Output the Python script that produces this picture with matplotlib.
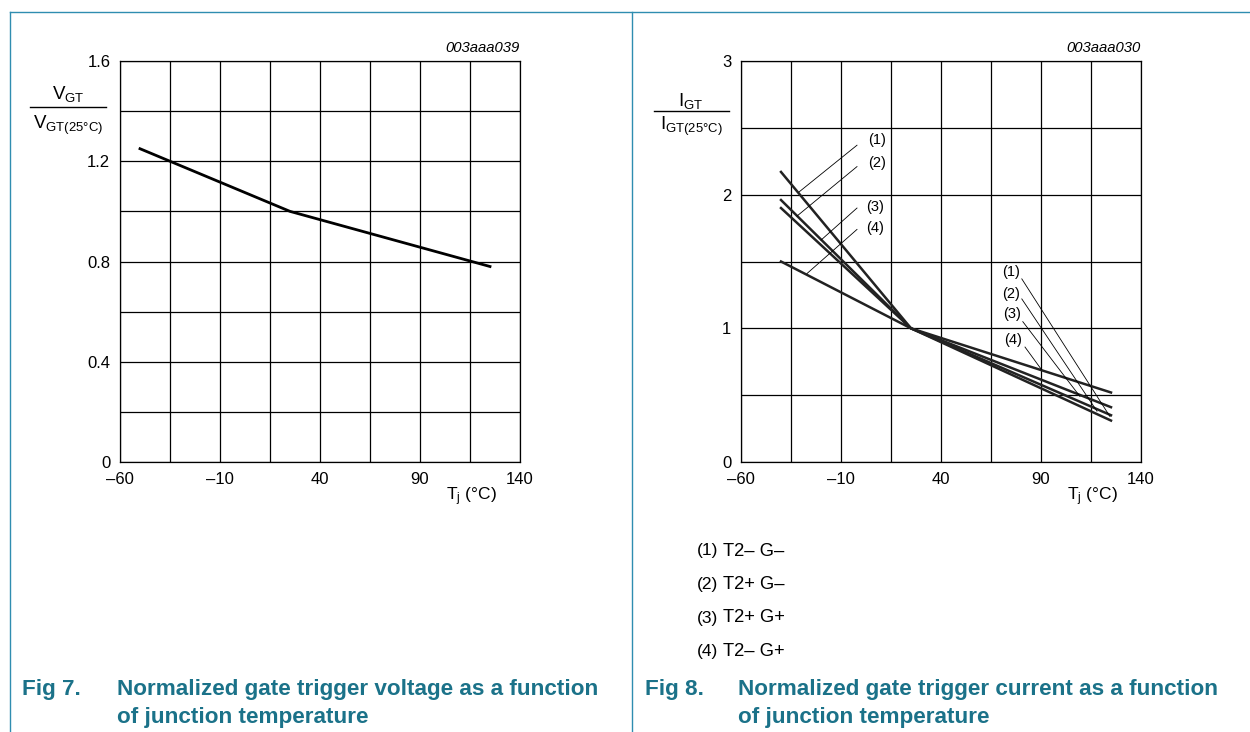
import matplotlib.pyplot as plt
from matplotlib.lines import Line2D
import numpy as np

plt.rcParams['font.family'] = ['Liberation Sans', 'DejaVu Sans']
plt.rcParams['mathtext.default'] = 'regular'

# Fig 7 data
tj_v = [-50, 25, 125]
vgt_norm = [1.25, 1.0, 0.78]

# Fig 8 data (all curves pass through 25 C -> 1)
tj_i = [-40, 25, 125]
igt_1 = [2.17, 1.0, 0.31]
igt_2 = [1.96, 1.0, 0.35]
igt_3 = [1.90, 1.0, 0.41]
igt_4 = [1.50, 1.0, 0.52]
curve_names = ['(1)', '(2)', '(3)', '(4)']
curve_desc = ['T2\u2013 G\u2013', 'T2+ G\u2013', 'T2+ G+', 'T2\u2013 G+']

x_ticks = [-60, -10, 40, 90, 140]
x_ticklabels = ['\u201360', '\u201310', '40', '90', '140']

W, H = 1250, 732
fig = plt.figure(figsize=(12.5, 7.32), dpi=100)
teal = '#1b7289'
border = '#2f8db0'


def fx(px):
    return px / W


def fy(py):
    return 1 - py / H


def frame_line(x0, y0, x1, y1, **kw):
    fig.add_artist(Line2D([fx(x0), fx(x1)], [fy(y0), fy(y1)], transform=fig.transFigure, **kw))


def setup_grid(ax, ymax, ystep, yticks, yticklabels):
    ax.set_xlim(-60, 140)
    ax.set_ylim(0, ymax)
    for xv in np.arange(-60, 141, 25):
        ax.axvline(xv, color='black', lw=0.9, zorder=1)
    for yv in np.arange(0, ymax + 1e-9, ystep):
        ax.axhline(yv, color='black', lw=0.9, zorder=1)
    ax.set_xticks(x_ticks)
    ax.set_xticklabels(x_ticklabels)
    ax.set_yticks(yticks)
    ax.set_yticklabels(yticklabels)
    ax.tick_params(length=0, labelsize=12, pad=7)
    for s in ax.spines.values():
        s.set_linewidth(0.9)


# left chart
ax1 = fig.add_axes([fx(120), fy(462), 400 / W, 401 / H])
setup_grid(ax1, 1.6, 0.2, [0, 0.4, 0.8, 1.2, 1.6], ['0', '0.4', '0.8', '1.2', '1.6'])
ax1.plot(tj_v, vgt_norm, color='black', lw=2, zorder=3)

# right chart
ax2 = fig.add_axes([fx(741), fy(462), 400 / W, 401 / H])
setup_grid(ax2, 3, 0.5, [0, 1, 2, 3], ['0', '1', '2', '3'])
for ys in [igt_1, igt_2, igt_3, igt_4]:
    ax2.plot(tj_i, ys, color='#222222', lw=1.8, zorder=3)

# curve labels with leader lines
left_lab = [(3.5, 2.41), (3.5, 2.24), (2.5, 1.91), (2.5, 1.75)]
left_lead = [((-2, 2.37), (-31, 2.02)), ((-2, 2.21), (-32, 1.84)),
             ((-2, 1.90), (-20, 1.66)), ((-2, 1.74), (-27, 1.41))]
right_lab = [(75, 1.42), (75, 1.26), (75.3, 1.11), (75.8, 0.91)]
right_lead = [((80.4, 1.37), (124.5, 0.34)), ((80.4, 1.22), (118, 0.38)),
              ((80.9, 1.05), (109.5, 0.49)), ((82, 0.86), (90.3, 0.69))]
for name, p, lead in zip(curve_names, left_lab, left_lead):
    ax2.text(p[0], p[1], name, fontsize=10.5, ha='left', va='center', zorder=4)
    ax2.plot([lead[0][0], lead[1][0]], [lead[0][1], lead[1][1]], color='black', lw=0.6, zorder=4)
for name, p, lead in zip(curve_names, right_lab, right_lead):
    ax2.text(p[0], p[1], name, fontsize=10.5, ha='center', va='center', zorder=4)
    ax2.plot([lead[0][0], lead[1][0]], [lead[0][1], lead[1][1]], color='black', lw=0.6, zorder=4)

# chart ids
fig.text(fx(520), fy(48), '003aaa039', style='italic', fontsize=10.7, ha='right', va='center')
fig.text(fx(1141), fy(48), '003aaa030', style='italic', fontsize=10.7, ha='right', va='center')

# y axis labels as fractions
fig.text(fx(68), fy(94), 'V$_{GT}$', fontsize=13.5, ha='center', va='center')
frame_line(30, 107, 106, 107, color='black', lw=1)
fig.text(fx(68), fy(125), 'V$_{GT(25°C)}$', fontsize=13.5, ha='center', va='center')
fig.text(fx(691), fy(101), 'I$_{GT}$', fontsize=13.5, ha='center', va='center')
frame_line(654, 111, 729, 111, color='black', lw=1)
fig.text(fx(691), fy(126), 'I$_{GT(25°C)}$', fontsize=13.5, ha='center', va='center')

# x axis labels
fig.text(fx(471), fy(497), 'T$_j$ (°C)', fontsize=12.5, ha='center', va='center')
fig.text(fx(1092), fy(497), 'T$_j$ (°C)', fontsize=12.5, ha='center', va='center')

# legend for fig 8
for i, (name, desc) in enumerate(zip(curve_names, curve_desc)):
    yy = 551 + i * 33.5
    fig.text(fx(697), fy(yy), name, fontsize=12.5, ha='left', va='center')
    fig.text(fx(723), fy(yy), desc, fontsize=13.2, ha='left', va='center')

# captions
cap = dict(fontsize=16.2, fontweight='bold', color=teal, va='center', ha='left')
fig.text(fx(22), fy(689), 'Fig 7.', **cap)
fig.text(fx(117), fy(689), 'Normalized gate trigger voltage as a function', **cap)
fig.text(fx(117), fy(717), 'of junction temperature', **cap)
fig.text(fx(645), fy(689), 'Fig 8.', **cap)
fig.text(fx(738), fy(689), 'Normalized gate trigger current as a function', **cap)
fig.text(fx(738), fy(717), 'of junction temperature', **cap)

# frame
frame_line(10, 12, 1250, 12, color=border, lw=1)
frame_line(10, 12, 10, 732, color=border, lw=1)
frame_line(632, 12, 632, 732, color=border, lw=1)

fig.savefig('out.png', dpi=100)
